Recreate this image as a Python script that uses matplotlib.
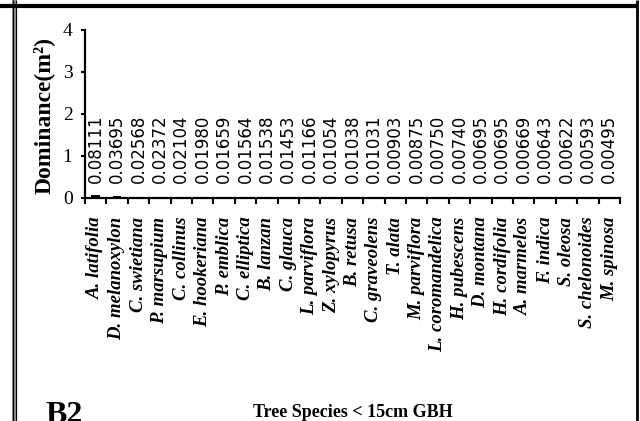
import matplotlib
matplotlib.use("Agg")
import matplotlib.pyplot as plt
from matplotlib.lines import Line2D
import numpy as np

species = ["A. latifolia", "D. melanoxylon", "C. swietiana", "P. marsupium",
           "C. collinus", "E. hookeriana", "P. emblica", "C. elliptica",
           "B. lanzan", "C. glauca", "L. parviflora", "Z. xylopyrus",
           "B. retusa", "C. graveolens", "T. alata", "M. parviflora",
           "L. coromandelica", "H. pubescens", "D. montana", "H. cordifolia",
           "A. marmelos", "F. indica", "S. oleosa", "S. chelonoides",
           "M. spinosa"]
dominance = [0.08111, 0.03695, 0.02568, 0.02372, 0.02104, 0.01980, 0.01659,
             0.01564, 0.01538, 0.01453, 0.01166, 0.01054, 0.01038, 0.01031,
             0.00903, 0.00875, 0.00750, 0.00740, 0.00695, 0.00695, 0.00669,
             0.00643, 0.00622, 0.00593, 0.00495]
yticks = [0, 1, 2, 3, 4]

W, H = 640, 421
fig = plt.figure(figsize=(W / 100, H / 100), dpi=100)
fig.patch.set_facecolor("white")

left, right, top, bottom = 85, 620, 30, 198
ax = fig.add_axes([left / W, 1 - bottom / H, (right - left) / W, (bottom - top) / H])

x = np.arange(len(species))
ax.bar(x, dominance, width=0.4, color="black")
for xi, v in zip(x, dominance):
    ax.text(xi, 0.36, f"{v:.5f}", rotation=90, ha="center", va="bottom",
            fontsize=12, family="DejaVu Sans", color="black")

ax.set_xlim(-0.5, len(species) - 0.5)
ax.set_ylim(0, 4)
ax.set_yticks(yticks)
ax.set_yticklabels([str(t) for t in yticks])
ax.set_xticks(x)
ax.set_xticklabels(species, rotation=90, ha="center", va="top")
ax.set_xticks(np.arange(-0.5, len(species), 1), minor=True)
ax.tick_params(axis="x", which="major", length=0, pad=13.5)
ax.tick_params(axis="x", which="minor", length=4, width=1.5, direction="out")
ax.tick_params(axis="y", length=3, width=1.5, direction="out", pad=6)
for lab in ax.get_yticklabels():
    lab.set_fontfamily("Liberation Serif")
    lab.set_fontsize(14)
for lab in ax.get_xticklabels():
    lab.set_fontfamily("Liberation Serif")
    lab.set_fontweight("bold")
    lab.set_fontstyle("italic")
    lab.set_fontsize(13.5)

for s in ["top", "right"]:
    ax.spines[s].set_visible(False)
for s in ["left", "bottom"]:
    ax.spines[s].set_linewidth(1.6)

fig.text(44 / W, 1 - 115 / H, "Dominance(m²)", rotation=90,
         ha="center", va="center", family="Liberation Serif", fontweight="bold",
         fontsize=17)
fig.text(352.5 / W, 1 - 417 / H, "Tree Species < 15cm GBH", ha="center",
         va="baseline", family="Liberation Serif", fontweight="bold", fontsize=13)
fig.text(45 / W, 1 - 423 / H, "B2", ha="left", va="baseline",
         family="Liberation Serif", fontweight="bold", fontsize=23)

def px_line(xs, ys, lw, color):
    fig.add_artist(Line2D([a / W for a in xs], [1 - b / H for b in ys],
                          transform=fig.transFigure, lw=lw, color=color,
                          solid_capstyle="butt"))

# frame lines
px_line([14, 14], [0, H], 3.0, "#9a9a9a")
px_line([12.5, 12.5], [0, H], 0.9, "black")
px_line([15.5, 15.5], [0, H], 0.9, "black")
px_line([0, 638], [6.2, 6.2], 3.0, "black")
px_line([637, 637], [0, H], 2.0, "black")

fig.savefig("out.png", dpi=100, facecolor="white")
